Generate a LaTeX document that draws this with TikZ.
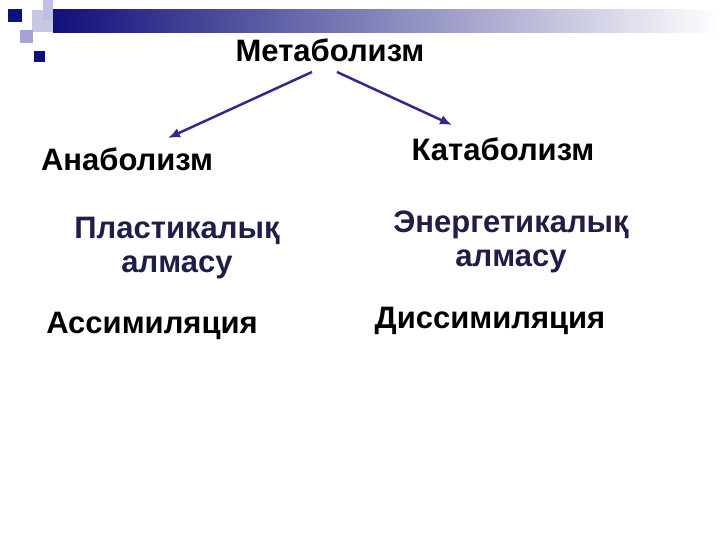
\documentclass[tikz,border=0pt]{standalone}
\usepackage{fontspec}
\setmainfont{Liberation Sans}
\usetikzlibrary{arrows.meta}
\definecolor{navy}{RGB}{16,16,122}
\definecolor{lavender}{RGB}{164,164,210}
\definecolor{arrowblue}{RGB}{52,40,140}
\definecolor{textnavy}{RGB}{30,30,70}
\definecolor{fadegrey}{RGB}{170,170,195}
\tikzstyle{term}=[inner sep=0pt, anchor=base, font=\fontsize{31bp}{34bp}\selectfont\bfseries]
\tikzstyle{link}=[arrowblue, line width=2.5bp, -{Latex[length=12bp,width=10bp]}]

\begin{document}
\begin{tikzpicture}[x=1bp, y=-1bp]
          \useasboundingbox (0, 0) rectangle (720, 540);
          % title bar
          \shade[left color=navy, middle color=fadegrey, right color=white]
            (53, 10) rectangle (720, 33);
          \fill[lavender!60] (32, 10) rectangle (53, 32);
          \fill[lavender!70] (43, 0) rectangle (53, 20);
          \fill[lavender] (20, 30) rectangle (33, 43);
          \fill[navy] (8, 9) rectangle (22, 22);
          \fill[navy] (34, 51) rectangle (45, 62);
          % terms
          \node[term] (meta) at (330, 62) {Метаболизм};
          \node[term] (anab) at (127, 171) {Анаболизм};
          \node[term] (katab) at (503, 161) {Катаболизм};
          \node[term, textnavy, align=center] (plast) at (177, 273)
            {Пластикалық\\алмасу};
          \node[term, textnavy, align=center] (energ) at (511, 267)
            {Энергетикалық\\алмасу};
          \node[term] (assim) at (152, 333) {Ассимиляция};
          \node[term] (dissim) at (490, 328) {Диссимиляция};
          % arrows
          \coordinate (lstart) at (312, 72);
          \coordinate (rstart) at (337, 72);
          \coordinate (ltip) at (168, 138);
          \coordinate (rtip) at (452, 125);
          \draw[link] (lstart) -- (ltip);
          \draw[link] (rstart) -- (rtip);
        \end{tikzpicture}
\end{document}
